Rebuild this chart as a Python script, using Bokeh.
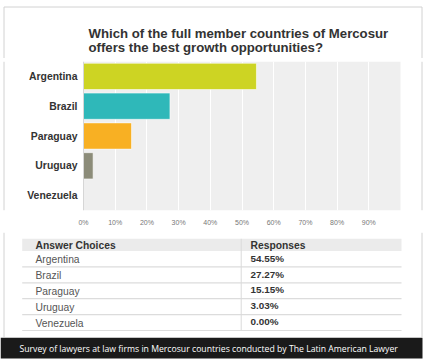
from bokeh.plotting import figure
from bokeh.models import Range1d, FactorRange, FixedTicker, ColumnDataSource, PrintfTickFormatter, Span
from bokeh.layouts import column
from bokeh.embed import file_html
from bokeh.resources import INLINE
from bokeh.core.properties import value

# ---------------- data ----------------
title_lines = ["Which of the full member countries of Mercosur",
               "offers the best growth opportunities?"]
countries = ["Argentina", "Brazil", "Paraguay", "Uruguay", "Venezuela"]
responses = [54.55, 27.27, 15.15, 3.03, 0.00]
bar_colors = ["#cdd423", "#2fb8b9", "#f8b023", "#8c8c79", "#8c8c79"]
x_ticks = [0, 10, 20, 30, 40, 50, 60, 70, 80, 90]
axis_max = 100
table_headers = ["Answer Choices", "Responses"]
footer_text = ("Survey of lawyers at law firms in Mercosur countries "
               "conducted by The Latin American Lawyer")

W = 430
FONT = "Liberation Sans"
BORDER = "#d2d2d2"
BX0, BX1 = 3.5, 421.5  # outer frame border x positions


def blank(height, width=W):
    f = figure(width=width, height=height, output_backend="svg", toolbar_location=None,
               x_range=Range1d(0, width), y_range=Range1d(height, 0),
               min_border=0, tools="")
    f.axis.visible = False
    f.grid.visible = False
    f.outline_line_color = None
    f.background_fill_color = "white"
    f.border_fill_color = "white"
    return f


def side_borders(f, y0, y1):
    f.segment(x0=[BX0, BX1], x1=[BX0, BX1], y0=[y0, y0], y1=[y1, y1],
              line_color=BORDER, line_width=1)


# ---------------- title ----------------
ft = blank(58)
side_borders(ft, 6.5, 58)
ft.segment(x0=[BX0], x1=[BX1], y0=[6.5], y1=[6.5], line_color=BORDER, line_width=1)
ft.text(x=[88, 88], y=[33.3, 47.3], text=title_lines,
        text_font=value(FONT), text_font_style="bold", text_font_size="13.2px",
        text_color="#333333", text_baseline="alphabetic", text_align="left")

# ---------------- bar chart ----------------
# plot area spans canvas px 83..400 of the full-width frame
px_left, px_right = 83, 400
k = axis_max / (px_right - px_left)
src = ColumnDataSource(dict(country=countries, resp=responses, color=bar_colors))
fb = figure(width=W, height=174, output_backend="svg", toolbar_location=None, tools="",
            y_range=FactorRange(factors=countries[::-1], range_padding=0),
            x_range=Range1d(-px_left * k, (W - px_left) * k),
            min_border_left=0, min_border_right=0, min_border_top=3, min_border_bottom=22)
fb.quad(left=[0], right=[axis_max], bottom=[0], top=[len(countries)],
        fill_color="#efefef", line_color=None, level="image")
fb.hbar(y="country", right="resp", left=0, height=0.88, source=src,
        fill_color="color", line_color="#ffffff", line_alpha=0.55, line_width=1)
fb.add_layout(Span(location=0, dimension="height", line_color="#d6d6d6", line_width=1))
for bx in (BX0, BX1):
    fb.add_layout(Span(location=(bx - px_left) * k, dimension="height",
                       line_color=BORDER, line_width=1))
fb.text(x=[0] * len(countries), y=countries, text=countries, x_offset=-6,
        text_font=value(FONT), text_font_style="bold", text_font_size="10.4px",
        text_color="#333333", text_baseline="middle", text_align="right")
fb.background_fill_color = "white"
fb.border_fill_color = "white"
fb.outline_line_color = None
fb.yaxis.visible = False
fb.ygrid.visible = False
fb.xgrid.grid_line_color = "white"
fb.xgrid.grid_line_width = 1
fb.xaxis.ticker = FixedTicker(ticks=x_ticks)
fb.xaxis.formatter = PrintfTickFormatter(format="%d%%")
fb.xaxis.axis_line_color = None
fb.xaxis.major_tick_line_color = None
fb.xaxis.minor_tick_line_color = None
fb.xaxis.major_tick_out = 0
fb.xaxis.major_label_standoff = 8
fb.xaxis.major_label_text_font = FONT
fb.xaxis.major_label_text_font_size = "7px"
fb.xaxis.major_label_text_color = "#777777"

# ---------------- table ----------------
fT = blank(105)
side_borders(fT, 0, 105)
n = len(countries)
row_h = 15.9
hdr_top, hdr_bot = 6.3, 18.5
row_c = [hdr_bot + row_h * i + row_h / 2 for i in range(n)]
row_sep = [hdr_bot + row_h * (i + 1) for i in range(n)]
tbl_left, tbl_right, col_x = 21.7, 401, 240.7

fT.quad(left=[tbl_left], right=[tbl_right], top=[hdr_top], bottom=[hdr_bot],
        fill_color="#ebebeb", line_color=None)
fT.segment(x0=[tbl_left] * n, x1=[tbl_right] * n, y0=row_sep, y1=row_sep,
           line_color="#dcdcdc", line_width=1.2)
fT.segment(x0=[col_x], x1=[col_x], y0=[hdr_top], y1=[row_sep[-1]],
           line_color="#dadada", line_width=1)
fT.text(x=[35, 250], y=[(hdr_top + hdr_bot) / 2 + 0.5] * 2, text=table_headers,
        text_font=value(FONT), text_font_style="bold", text_font_size="10.3px",
        text_color="#333333", text_baseline="middle", text_align="left")
fT.text(x=[35] * n, y=[c + 0.6 for c in row_c], text=countries,
        text_font=value(FONT), text_font_size="10.3px",
        text_color="#555555", text_baseline="middle", text_align="left")
fT.text(x=[250] * n, y=[c - 0.8 for c in row_c], text=["%.2f%%" % v for v in responses],
        text_font=value(FONT), text_font_style="bold", text_font_size="9.9px",
        text_color="#333333", text_baseline="middle", text_align="left")

# ---------------- footer ----------------
fF = blank(25)
fF.quad(left=[0], right=[422], top=[0], bottom=[21], fill_color="#1a1a1a", line_color=None)
fF.text(x=[19], y=[11.8], text=[footer_text],
        text_font=value("Open Sans"), text_font_size="8.68px",
        text_color="white", text_baseline="middle", text_align="left")

layout = column(ft, fb, fT, fF)

open("out.html", "w").write(file_html(layout, INLINE))
